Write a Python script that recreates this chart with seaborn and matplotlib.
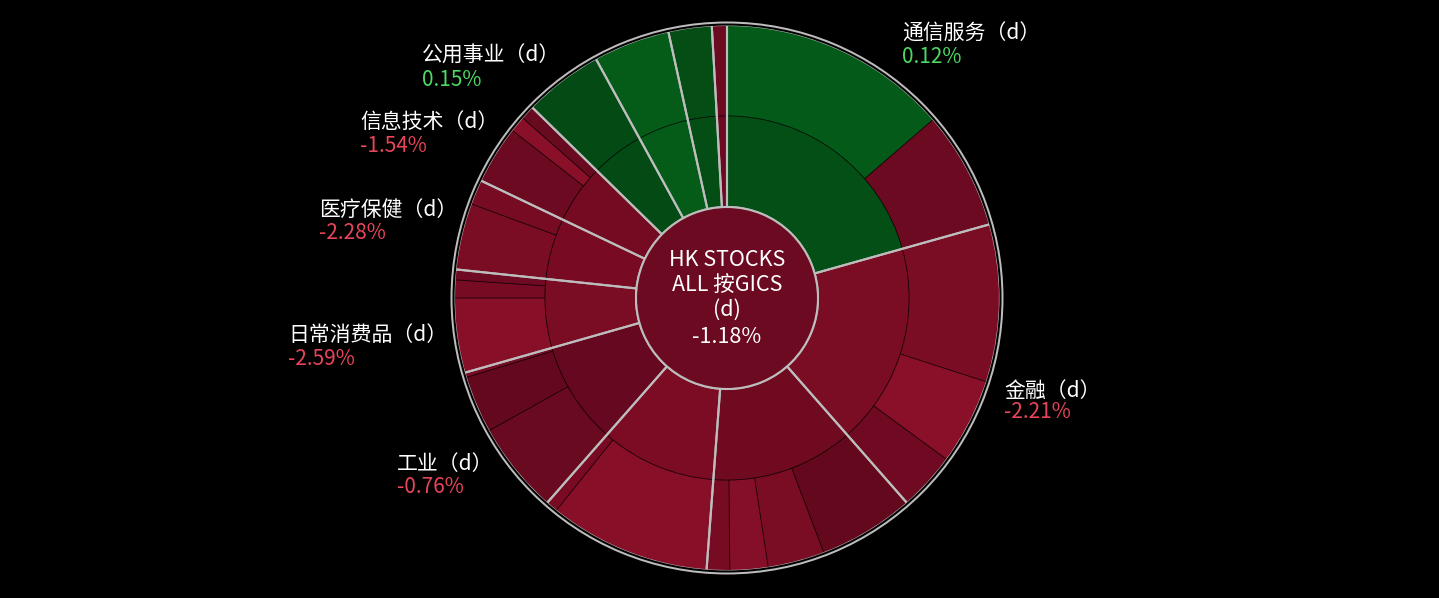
import matplotlib
matplotlib.use("Agg")
import matplotlib.pyplot as plt
import seaborn as sns
import numpy as np

# ---------------- data ----------------
root_title = ["HK STOCKS", "ALL 按GICS", "(d)"]
root_change = -1.18

# sectors clockwise from 12 o'clock ('' = not labelled in the chart)
sector_names = ["通信服务", "金融", "", "", "工业", "日常消费品",
                "医疗保健", "信息技术", "公用事业", "", "", ""]
sector_changes = [0.12, -2.21, None, None, -0.76, -2.59,
                  -2.28, -1.54, 0.15, None, None, None]

# member weights (% of total), clockwise inside each sector
comm_w = [13.64, 7.00]
fin_w = [9.33, 5.11, 3.44]
sec3_w = [5.69, 3.36, 2.25, 1.36]
sec4_w = [9.58, 0.69]
ind_w = [5.44, 3.39, 0.28]
staples_w = [4.42, 1.06, 0.61]
health_w = [3.94, 1.47]
it_w = [3.47, 0.94, 0.83]
util_w = [4.69]
sec10_w = [4.53]
sec11_w = [2.56]
sec12_w = [0.89]
member_weights = [comm_w, fin_w, sec3_w, sec4_w, ind_w, staples_w,
                  health_w, it_w, util_w, sec10_w, sec11_w, sec12_w]

# ---------------- styles ----------------
center_color = "#6b0a20"
sector_colors = ["#044f16", "#7a0c24", "#700a21", "#7c0c24", "#66081f", "#7a0c24",
                 "#780b23", "#740b22", "#034a14", "#055c19", "#044e15", "#6c0a22"]
member_colors = [
    ["#045a18", "#6c0a22"],
    ["#7a0c24", "#8a1029", "#700a22"],
    ["#64081e", "#7a0c24", "#850f28", "#760b23"],
    ["#880f28", "#780b23"],
    ["#6a0a21", "#64081e", "#760b23"],
    ["#880f28", "#760b23", "#6e0a21"],
    ["#7a0c24", "#760b23"],
    ["#6c0a21", "#8a1029", "#680a20"],
    ["#034a14"], ["#055c19"], ["#044e15"], ["#6c0a22"],
]
# label anchor (left x, name baseline y, value baseline y) in pixels
label_pos = {
    "通信服务": (902, 40, 63),
    "金融": (1004, 397, 418),
    "工业": (397, 470, 493),
    "日常消费品": (288, 341, 365),
    "医疗保健": (319, 216, 239),
    "信息技术": (360, 128, 152),
    "公用事业": (422, 62, 86),
}
GRAY = "#bdbdbd"
POS_C = "#4cd964"
NEG_C = "#e8455a"

W, H = 1439, 598
CX, CY, RPX = 727, 298, 273.0

sns.set_theme(style="dark")
plt.rcParams["font.family"] = ["Noto Sans CJK SC", "DejaVu Sans"]

fig = plt.figure(figsize=(W / 100, H / 100), dpi=100, facecolor="black")
ax = fig.add_axes([0, 0, 1, 1])
ax.set_facecolor("black")


def to_data(x, y):
    return (x - CX) / RPX, (CY - y) / RPX


flat_w = [w for grp in member_weights for w in grp]
flat_c = [c for grp in member_colors for c in grp]
sector_tot = [sum(g) for g in member_weights]

thin = dict(edgecolor=(0, 0, 0, 0.55), linewidth=0.6)
ax.pie(flat_w, radius=1.0, colors=flat_c, startangle=90, counterclock=False,
       wedgeprops=dict(width=1 / 3, **thin))
ax.pie(sector_tot, radius=2 / 3, colors=sector_colors, startangle=90,
       counterclock=False, wedgeprops=dict(width=1 / 3, **thin))
# sector separators
ax.pie(sector_tot, radius=1.0, startangle=90, counterclock=False,
       wedgeprops=dict(width=2 / 3, facecolor="none", edgecolor=GRAY,
                       linewidth=1.5))
# black gap + outer gray ring
ax.pie([1], radius=1.0055, colors=["black"], wedgeprops=dict(width=0.0075, linewidth=0))
ax.pie([1], radius=1.0128, colors=[GRAY], wedgeprops=dict(width=0.0073, linewidth=0))
# center disc
ax.pie([1], radius=1 / 3, colors=[center_color],
       wedgeprops=dict(edgecolor=GRAY, linewidth=1.5))

ax.set_xlim(-CX / RPX, (W - CX) / RPX)
ax.set_ylim((CY - H) / RPX, CY / RPX)
ax.set_aspect("equal", adjustable="datalim")
ax.axis("off")

# center text
fs_c = 15.5
center_lines = root_title + [f"{root_change:.2f}%"]
for line, by in zip(center_lines, [266, 290.5, 316, 343]):
    ax.text(*to_data(CX, by), line, ha="center", va="baseline",
            color="white", fontsize=fs_c)

# sector labels
fs = 15
for name, chg in zip(sector_names, sector_changes):
    if not name:
        continue
    lx, nb, vb = label_pos[name]
    ax.text(*to_data(lx, nb), f"{name}（d）", ha="left", va="baseline",
            color="white", fontsize=fs)
    ax.text(*to_data(lx, vb), f"{chg:.2f}%", ha="left", va="baseline",
            color=POS_C if chg >= 0 else NEG_C, fontsize=fs)

fig.savefig("out.png", dpi=100, facecolor="black")
